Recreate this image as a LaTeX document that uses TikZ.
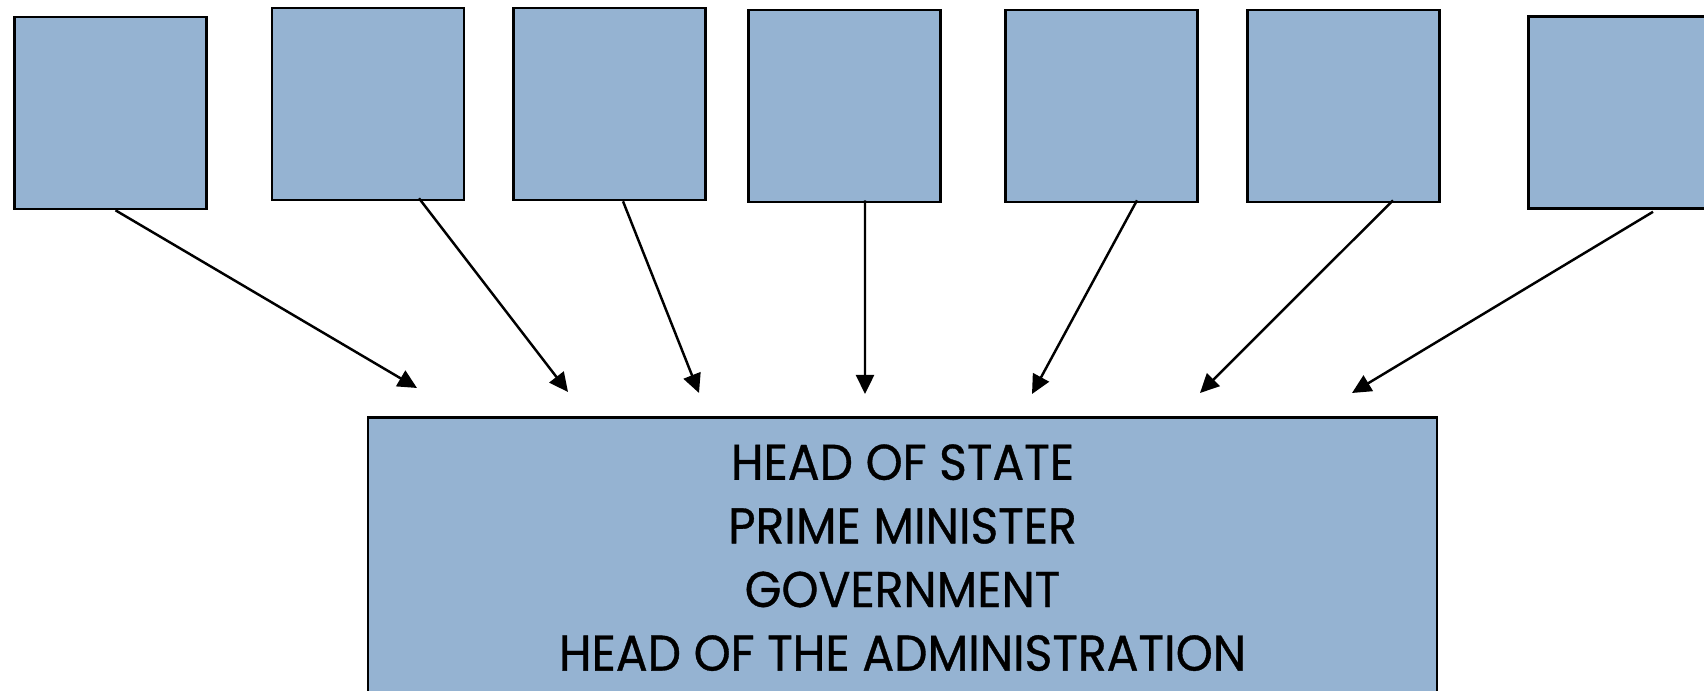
\documentclass[tikz,border=0pt]{standalone}
\usepackage{fontspec}
\setsansfont{Poppins}[FakeStretch=0.94,FakeBold=0.7]
\usepackage{tikz}
\usetikzlibrary{arrows.meta,positioning}
\definecolor{boxblue}{RGB}{149,179,210}

\begin{document}
\begin{tikzpicture}[
font=\sffamily,
member/.style={draw,line width=0.75pt,fill=boxblue,minimum size=1.92cm,inner sep=0pt},
office/.style={draw,line width=0.75pt,fill=boxblue,minimum width=10.69cm,inner xsep=0pt,inner ysep=0.27cm,
  align=center,anchor=north,font=\sffamily\fontsize{14.3}{18.1}\selectfont},
feeds/.style={->,line width=0.7pt,>={Triangle[length=1.9mm,width=1.8mm]}}
]
    % page
    \useasboundingbox (0,0) rectangle (17.04,6.91);

    % top boxes
    \node[member] (b1) at (1.105,5.78) {};
    \node[member] (b2) at (3.68,5.87) {};
    \node[member] (b3) at (6.095,5.87) {};
    \node[member] (b4) at (8.445,5.85) {};
    \node[member] (b5) at (11.015,5.85) {};
    \node[member] (b6) at (13.435,5.85) {};
    \node[member] (b7) at (16.245,5.785) {};

    % bottom box
    \node[office] (top) at (9.025,2.75)
      {HEAD OF STATE\\PRIME MINISTER\\GOVERNMENT\\HEAD OF THE ADMINISTRATION};

    \draw
    (4.17,3.03) coordinate (t1)
    (5.68,2.99) coordinate (t2)
    (6.99,2.98) coordinate (t3)
    (8.65,2.97) coordinate (t4)
    (10.32,2.97) coordinate (t5)
    (12.00,2.98) coordinate (t6)
    (13.52,2.98) coordinate (t7);

    \draw[feeds] ([xshift=0.5mm]b1.south) -- (t1);
    \draw[feeds] ([xshift=5.1mm,yshift=0.3mm]b2.south) -- (t2);
    \draw[feeds] ([xshift=1.35mm]b3.south) -- (t3);
    \draw[feeds] ([xshift=2.05mm,yshift=0.3mm]b4.south) -- (t4);
    \draw[feeds] ([xshift=3.55mm,yshift=0.3mm]b5.south) -- (t5);
    \draw[feeds] ([xshift=4.95mm,yshift=0.3mm]b6.south) -- (t6);
    \draw[feeds] ([xshift=2.85mm,yshift=-0.2mm]b7.south) -- (t7);
\end{tikzpicture}
\end{document}
